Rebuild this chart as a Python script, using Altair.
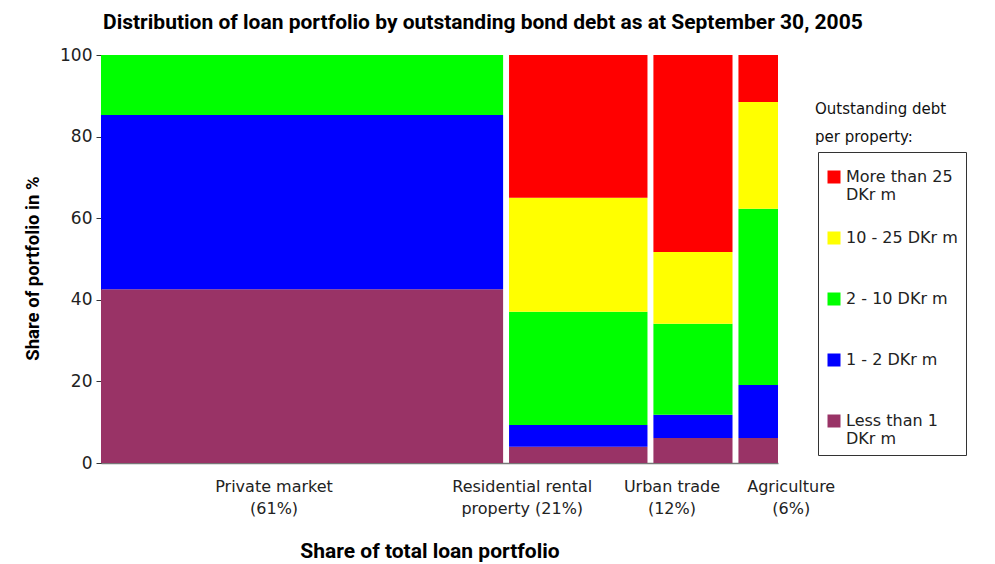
import altair as alt
import pandas as pd

categories = ["Private market", "Residential rental property", "Urban trade", "Agriculture"]
cat_labels = ["Private market\n(61%)", "Residential rental\nproperty (21%)", "Urban trade\n(12%)", "Agriculture\n(6%)"]
shares = [61, 21, 12, 6]

bands = ["Less than 1 DKr m", "1 - 2 DKr m", "2 - 10 DKr m", "10 - 25 DKr m", "More than 25 DKr m"]
band_colors = ["#993366", "#0000FF", "#00FF00", "#FFFF00", "#FF0000"]
less_than_1 = [42.6, 4.0, 6.1, 6.1]
one_to_two = [42.7, 5.3, 5.7, 13.0]
two_to_ten = [14.7, 27.8, 22.3, 43.2]
ten_to_25 = [0.0, 27.9, 17.6, 26.2]
more_than_25 = [0.0, 35.0, 48.3, 11.5]

BOLD = "Roboto"
REG = "DejaVu Sans"
GAP = 0.9  # gap between columns, in share units
LABEL_NUDGE = [-28, -56, -21, 33]  # pixel nudges of the category captions (style)

series = [less_than_1, one_to_two, two_to_ten, ten_to_25, more_than_25]
rows = []
centers = []
for i, cat in enumerate(categories):
    x0 = sum(shares[:i]) + i * GAP
    x1 = x0 + shares[i]
    centers.append({"center": (x0 + x1) / 2, "label": cat_labels[i]})
    y = 0.0
    for j, band in enumerate(bands):
        v = series[j][i]
        if v > 0:
            rows.append({"category": cat, "band": band, "x0": x0, "x1": x1,
                         "y0": y, "y1": y + v, "value": v})
        y += v
df = pd.DataFrame(rows)
lab_df = pd.DataFrame(centers)

xmax = 100 + 3 * GAP
W, H = 677, 408

legend_order = bands[::-1]
legend_colors = band_colors[::-1]

x_scale = alt.Scale(domain=[0, xmax], nice=False, zero=True)
x_axis = alt.Axis(title="Share of total loan portfolio", labels=False, ticks=False,
                  grid=False, domainColor="#777777", domainWidth=1.5,
                  titlePadding=77, titleFontSize=21, titleFont=BOLD,
                  titleFontWeight="bold", titleColor="#000000", titleX=W / 2 - 10)

rects = alt.Chart(df).mark_rect().encode(
    x=alt.X("x0:Q", scale=x_scale, axis=x_axis),
    x2="x1:Q",
    y=alt.Y("y0:Q", scale=alt.Scale(domain=[0, 100], nice=False),
            axis=alt.Axis(title="Share of portfolio in %", values=[0, 20, 40, 60, 80, 100],
                          grid=False, domainColor="#333333", tickColor="#333333", tickSize=5,
                          labelFontSize=17, labelFont=REG, labelColor="#222222", labelPadding=4,
                          titleFontSize=18.5, titleFont=BOLD, titleFontWeight="bold",
                          titleColor="#000000", titlePadding=17, titleY=H / 2 + 9)),
    y2="y1:Q",
    color=alt.Color("band:N", scale=alt.Scale(domain=legend_order, range=legend_colors),
                    legend=alt.Legend(title=" ", titleFontSize=1, titlePadding=8,
                                      orient="none", legendX=717, legendY=97,
                                      strokeColor="#333333", padding=8, rowPadding=27,
                                      symbolType="square", symbolSize=169, symbolStrokeWidth=0,
                                      symbolOpacity=1, labelFontSize=16, labelFont=REG,
                                      labelColor="#222222", labelLimit=200, labelOffset=4,
                                      labelExpr="indexof(datum.label, 'than') >= 0 ? [slice(datum.label, 0, indexof(datum.label, ' DKr')), 'DKr m'] : [datum.label, ' ']")),
    tooltip=["category", "band", "value"],
)

label_layers = []
for i in range(len(categories)):
    label_layers.append(
        alt.Chart(lab_df.iloc[[i]]).mark_text(lineBreak="\n", baseline="top", fontSize=16, font=REG,
                                              color="#222222", lineHeight=22, dx=LABEL_NUDGE[i]).encode(
            x=alt.X("center:Q", scale=x_scale, axis=x_axis),
            y=alt.value(H + 16),
            text="label:N",
        )
    )

legend_title = alt.Chart(pd.DataFrame({"t": ["Outstanding debt\nper property:"]})).mark_text(
    align="left", baseline="top", lineBreak="\n", fontSize=15, font=REG,
    color="#111111", lineHeight=28).encode(
    x=alt.value(714), y=alt.value(47), text="t:N")

chart = alt.layer(rects, *label_layers, legend_title).properties(
    width=W, height=H,
    autosize=alt.AutoSizeParams(type="none"),
    padding={"left": 93, "top": 47, "right": 200, "bottom": 100},
    title=alt.Title("Distribution of loan portfolio by outstanding bond debt as at September 30, 2005",
                    anchor="start", frame="group", fontSize=21, font=BOLD, fontWeight="bold",
                    color="#000000", offset=13, dx=2),
).configure_view(stroke=None)

chart.save("out.html", embed_options={"renderer": "svg", "actions": False})
